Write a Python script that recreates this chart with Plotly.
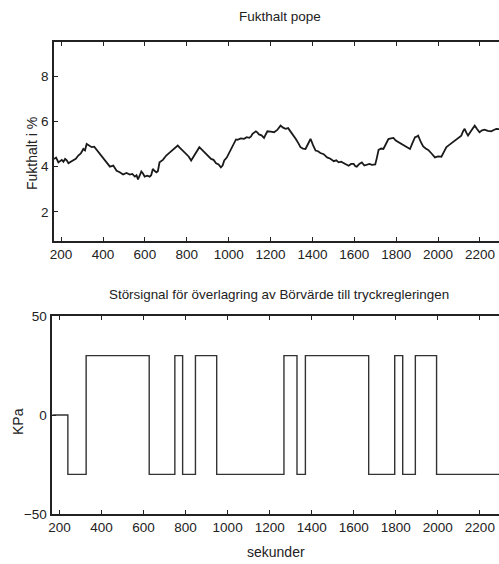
import plotly.graph_objects as go

# Top plot: moisture content (Fukthalt i %) vs time (s)
t_moist = [166, 176, 187, 195, 203, 211, 219, 227, 235, 246, 258, 270, 282, 294, 306, 314, 322, 334, 346, 358,
           370, 385, 401, 417, 433, 449, 465, 480, 496, 512, 528, 540, 552, 560, 567, 575, 583, 591, 599, 611,
           623, 630, 638, 646, 655, 662, 670, 686, 702, 718, 734, 745, 757, 765, 773, 785, 797, 809, 821, 833,
           845, 852, 860, 872, 884, 900, 916, 928, 940, 952, 963, 971, 979, 991, 1003, 1015, 1027, 1035, 1042, 1058,
           1074, 1086, 1098, 1106, 1114, 1122, 1130, 1138, 1145, 1157, 1169, 1177, 1185, 1201, 1217, 1232, 1248, 1260,
           1272, 1284, 1296, 1308, 1320, 1332, 1343, 1355, 1367, 1379, 1391, 1403, 1415, 1427, 1438, 1454, 1470, 1486,
           1502, 1514, 1525, 1537, 1549, 1561, 1573, 1585, 1597, 1605, 1612, 1624, 1636, 1648, 1660, 1672, 1684, 1692,
           1700, 1708, 1716, 1728, 1739, 1751, 1763, 1775, 1787, 1798, 1810, 1822, 1834, 1850, 1866, 1878, 1890, 1898,
           1905, 1917, 1929, 1941, 1953, 1969, 1985, 2000, 2016, 2028, 2040, 2052, 2064, 2076, 2088, 2100, 2111, 2119,
           2127, 2135, 2143, 2159, 2175, 2187, 2198, 2210, 2222, 2238, 2254, 2266, 2278, 2295]
moist = [4.34, 4.40, 4.19, 4.25, 4.30, 4.22, 4.34, 4.28, 4.15, 4.22, 4.27, 4.35, 4.49, 4.58, 4.78, 4.72, 5.00, 4.92, 4.86, 4.88,
         4.74, 4.55, 4.34, 4.18, 4.00, 4.05, 3.82, 3.75, 3.65, 3.72, 3.65, 3.68, 3.56, 3.62, 3.44, 3.60, 3.79, 3.70, 3.56, 3.60,
         3.56, 3.62, 3.90, 3.82, 3.75, 3.80, 4.19, 4.30, 4.49, 4.62, 4.74, 4.80, 4.93, 4.85, 4.78, 4.70, 4.56, 4.45, 4.27, 4.45,
         4.63, 4.75, 4.86, 4.75, 4.63, 4.48, 4.34, 4.30, 4.15, 4.10, 3.97, 4.05, 4.27, 4.40, 4.63, 4.85, 5.08, 5.20, 5.18, 5.25,
         5.23, 5.30, 5.27, 5.32, 5.45, 5.50, 5.56, 5.50, 5.42, 5.38, 5.27, 5.42, 5.56, 5.55, 5.52, 5.62, 5.81, 5.72,
         5.67, 5.70, 5.56, 5.42, 5.23, 5.05, 4.86, 4.80, 4.78, 5.00, 5.23, 4.95, 4.71, 4.68, 4.60, 4.55, 4.41, 4.35,
         4.24, 4.28, 4.19, 4.22, 4.15, 4.10, 4.04, 4.12, 4.12, 4.02, 4.00, 4.12, 4.19, 4.05, 4.08, 4.12, 4.08, 4.10,
         4.10, 4.40, 4.74, 4.80, 4.78, 5.00, 5.22, 5.25, 5.27, 5.15, 5.08, 5.02, 4.93, 4.85, 4.78, 5.05, 5.30, 5.32,
         5.37, 5.10, 4.89, 4.80, 4.74, 4.58, 4.41, 4.45, 4.44, 4.65, 4.86, 4.95, 5.04, 5.10, 5.19, 5.30, 5.37, 5.55,
         5.67, 5.50, 5.37, 5.60, 5.81, 5.65, 5.52, 5.60, 5.63, 5.58, 5.56, 5.62, 5.67, 5.65]

# Bottom plot: disturbance signal (KPa), step changes
t_step = [166, 240, 327, 627, 749, 786, 847, 948, 1268, 1330, 1370, 1671, 1795, 1833, 1893, 1994, 2300]
kpa = [0, -30, 30, -30, 30, -30, 30, -30, 30, -30, 30, -30, 30, -30, 30, -30, -30]

x_ticks = [200, 400, 600, 800, 1000, 1200, 1400, 1600, 1800, 2000, 2200]
y1_ticks = [2, 4, 6, 8]
y2_ticks = [-50, 0, 50]

title1 = "Fukthalt pope"
title2 = "Störsignal för överlagring av Börvärde till tryckregleringen"
ylab1 = "Fukthalt i %"
ylab2 = "KPa"
xlab = "sekunder"

W, H = 499, 564
FONT = "Liberation Sans, Arial, sans-serif"

def px_x(p):
    return p / W

def px_y(p):
    return 1 - p / H

fig = go.Figure()
fig.add_trace(go.Scatter(x=t_moist, y=moist, mode="lines", xaxis="x", yaxis="y",
                         line=dict(color="#1a1a1a", width=1.8), showlegend=False))
fig.add_trace(go.Scatter(x=t_step, y=kpa, mode="lines", xaxis="x2", yaxis="y2",
                         line=dict(color="#333333", width=1.4, shape="hv"), showlegend=False))

xr = [166, 2291]
axis_common = dict(showgrid=False, zeroline=False, showline=True, linecolor="#222222", linewidth=1.5,
                   ticks="inside", ticklen=4, tickcolor="#222222", tickwidth=1.2, automargin=False,
                   tickfont=dict(family=FONT, size=13.5, color="#222222"))

fig.update_layout(
    width=W, height=H, margin=dict(l=0, r=0, t=0, b=0),
    paper_bgcolor="white", plot_bgcolor="white",
    font=dict(family=FONT, color="#222222"),
    xaxis=dict(domain=[px_x(54), 1], range=xr, tickvals=x_ticks, mirror="ticks", anchor="y", **axis_common),
    yaxis=dict(domain=[px_y(241), px_y(42)], range=[0.72, 9.5], tickvals=y1_ticks, anchor="x",
               ticklabelstandoff=1, **axis_common),
    xaxis2=dict(domain=[px_x(52.3), 1], range=xr, tickvals=x_ticks, mirror="ticks", anchor="y2", **axis_common),
    yaxis2=dict(domain=[px_y(514), px_y(316)], range=[-50, 50], tickvals=y2_ticks, anchor="x2",
                ticklabelstandoff=1, **axis_common),
    annotations=[
        dict(text=title1, x=px_x(280), y=px_y(16), xref="paper", yref="paper", showarrow=False,
             font=dict(family=FONT, size=13.5, color="#222222"), xanchor="center", yanchor="middle"),
        dict(text=title2, x=px_x(279), y=px_y(294), xref="paper", yref="paper", showarrow=False,
             font=dict(family=FONT, size=13.4, color="#222222"), xanchor="center", yanchor="middle"),
        dict(text=ylab1, x=px_x(32), y=px_y(153), xref="paper", yref="paper", showarrow=False, textangle=-90,
             font=dict(family=FONT, size=14, color="#222222"), xanchor="center", yanchor="middle"),
        dict(text=ylab2, x=px_x(18), y=px_y(422), xref="paper", yref="paper", showarrow=False, textangle=-90,
             font=dict(family=FONT, size=14, color="#222222"), xanchor="center", yanchor="middle"),
        dict(text=xlab, x=px_x(276), y=px_y(552), xref="paper", yref="paper", showarrow=False,
             font=dict(family=FONT, size=14, color="#222222"), xanchor="center", yanchor="middle"),
    ],
)

fig.write_html("out.html", config={"displayModeBar": False})

# remove default page margins so the figure fills the window exactly
with open("out.html", "r", encoding="utf-8") as f:
    html = f.read()
html = html.replace("<head>", "<head><style>html,body{margin:0;padding:0;overflow:hidden;}</style>", 1)
with open("out.html", "w", encoding="utf-8") as f:
    f.write(html)
